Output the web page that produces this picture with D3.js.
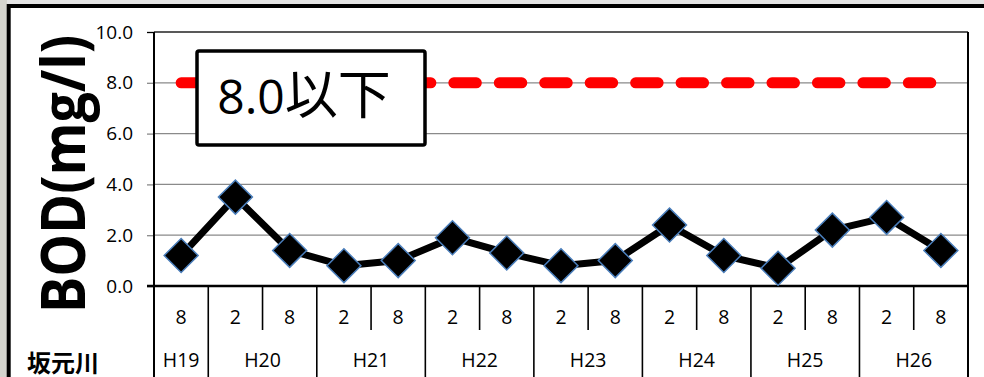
<!DOCTYPE html>
<html>
<head>
<meta charset="utf-8">
<script src="https://cdn.jsdelivr.net/npm/d3@7"></script>
<style>
  html, body { margin: 0; padding: 0; background: #fff; }
  svg { display: block; }
</style>
</head>
<body>
<svg id="chart" width="984" height="377"></svg>
<script>
// ---- data ----
const categoryYears  = ["H19","H20","H20","H21","H21","H22","H22","H23","H23","H24","H24","H25","H25","H26","H26"];
const categoryMonths = ["8","2","8","2","8","2","8","2","8","2","8","2","8","2","8"];
const bodValues      = [1.2, 3.5, 1.4, 0.8, 1.0, 1.9, 1.3, 0.8, 1.0, 2.4, 1.2, 0.7, 2.2, 2.7, 1.4];
const standardValues = [8.0, 8.0, 8.0, 8.0, 8.0, 8.0, 8.0, 8.0, 8.0, 8.0, 8.0, 8.0, 8.0, 8.0, 8.0];
const yTickValues    = [0, 2, 4, 6, 8, 10];
const yAxisTitle     = "BOD(mg/l)";
const riverName      = "坂元川";
const standardLabel  = ["8.0", "以下"];

// ---- layout ----
const W = 984, H = 377;
const plot = { left: 154, right: 968, top: 32, bottom: 286 };
const svg = d3.select("#chart");
const font = "'Open Sans', 'Noto Sans CJK JP', sans-serif";

// background pieces (photo edges)
svg.append("rect").attr("x", 0).attr("y", 0).attr("width", W).attr("height", H).attr("fill", "#fff");
svg.append("rect").attr("x", 0).attr("y", 0).attr("width", W).attr("height", 4).attr("fill", "#e4e4e4");
svg.append("rect").attr("x", 0).attr("y", 0).attr("width", 7).attr("height", H).attr("fill", "#d4d4ce");
// outer frame
svg.append("line").attr("x1", 7).attr("x2", W).attr("y1", 6).attr("y2", 6).attr("stroke", "#000").attr("stroke-width", 4);
svg.append("line").attr("x1", 8.7).attr("x2", 8.7).attr("y1", 4).attr("y2", H).attr("stroke", "#000").attr("stroke-width", 4);

const idx = d3.range(categoryMonths.length);
const x = d3.scaleBand().domain(idx).range([plot.left, plot.right]).padding(0);
const cx = i => x(i) + x.bandwidth() / 2;
const y = d3.scaleLinear().domain([0, 10]).range([plot.bottom, plot.top]);

// gridlines + y ticks
const yAxis = d3.axisLeft(y).tickValues(yTickValues).tickFormat(d3.format(".1f")).tickSize(7).tickPadding(14);
const gY = svg.append("g").attr("transform", `translate(${plot.left},0)`).call(yAxis);
gY.select(".domain").remove();
gY.selectAll(".tick line").attr("stroke", d => (d === 0 || d === 10) ? "#000" : "#8a8a8a").attr("stroke-width", 1.3);
gY.selectAll(".tick text").attr("font-family", font).attr("font-size", 19).attr("fill", "#000");

svg.append("g").selectAll("line").data(yTickValues.filter(v => v > 0 && v < 10)).join("line")
  .attr("x1", plot.left).attr("x2", plot.right)
  .attr("y1", d => y(d)).attr("y2", d => y(d))
  .attr("stroke", "#8a8a8a").attr("stroke-width", 1.3);

// plot border
svg.append("line").attr("x1", plot.left).attr("x2", plot.right).attr("y1", y(10)).attr("y2", y(10)).attr("stroke", "#222").attr("stroke-width", 1.5);
svg.append("line").attr("x1", plot.right).attr("x2", plot.right).attr("y1", y(10)).attr("y2", H).attr("stroke", "#000").attr("stroke-width", 2);
svg.append("line").attr("x1", plot.left).attr("x2", plot.left).attr("y1", y(10)).attr("y2", H).attr("stroke", "#000").attr("stroke-width", 2);
svg.append("line").attr("x1", plot.left - 7).attr("x2", plot.right).attr("y1", y(0)).attr("y2", y(0)).attr("stroke", "#000").attr("stroke-width", 2.5);

// category boundaries
const boundaries = d3.range(categoryMonths.length + 1);
svg.append("g").selectAll("line").data(boundaries).join("line")
  .attr("x1", d => d < categoryMonths.length ? x(d) : plot.right)
  .attr("x2", d => d < categoryMonths.length ? x(d) : plot.right)
  .attr("y1", y(0))
  .attr("y2", d => {
    const yearStart = d === 0 || d === categoryMonths.length || categoryYears[d] !== categoryYears[d - 1];
    return yearStart ? H : 330;
  })
  .attr("stroke", "#000").attr("stroke-width", 1.6);

// month labels
svg.append("g").selectAll("text").data(idx).join("text")
  .attr("x", d => cx(d)).attr("y", 316)
  .attr("text-anchor", "middle").attr("dominant-baseline", "central")
  .attr("font-family", font).attr("font-size", 19.5).attr("fill", "#000")
  .text(d => categoryMonths[d]);

// year labels
const years = Array.from(new Set(categoryYears));
svg.append("g").selectAll("text").data(years).join("text")
  .attr("x", yr => d3.mean(idx.filter(i => categoryYears[i] === yr), cx)).attr("y", 359)
  .attr("text-anchor", "middle").attr("dominant-baseline", "central")
  .attr("font-family", font).attr("font-size", 19.5).attr("fill", "#000")
  .text(yr => yr);

// river name
svg.append("text").attr("x", 27).attr("y", 361).attr("dominant-baseline", "central")
  .attr("font-family", "'Noto Sans CJK JP', sans-serif").attr("font-weight", "bold").attr("font-size", 24)
  .attr("fill", "#000").text(riverName);

// y axis title
svg.append("text")
  .attr("transform", `translate(85,174) rotate(-90)`)
  .attr("text-anchor", "middle")
  .attr("font-family", "'Open Sans', sans-serif").attr("font-weight", "bold").attr("font-size", 60)
  .attr("textLength", 278).attr("lengthAdjust", "spacingAndGlyphs")
  .attr("fill", "#000").text(yAxisTitle);

// standard line
const lineGen = d3.line().x((d, i) => cx(i)).y(d => y(d));
svg.append("path").datum(standardValues).attr("d", lineGen)
  .attr("fill", "none").attr("stroke", "#ff0000").attr("stroke-width", 11)
  .attr("stroke-linecap", "round").attr("stroke-dasharray", "22.5 22.95");

// BOD series
svg.append("path").datum(bodValues).attr("d", lineGen)
  .attr("fill", "none").attr("stroke", "#000").attr("stroke-width", 7).attr("stroke-linejoin", "round");
const diamond = d3.symbol().type(d3.symbolSquare).size(576);
svg.append("g").selectAll("path").data(bodValues).join("path")
  .attr("d", diamond)
  .attr("transform", (d, i) => `translate(${cx(i)},${y(d)}) rotate(45)`)
  .attr("fill", "#000").attr("stroke", "#4a7ebb").attr("stroke-width", 1.5);

// standard label box
svg.append("rect").attr("x", 197).attr("y", 51).attr("width", 228).attr("height", 94).attr("rx", 2)
  .attr("fill", "#fff").attr("stroke", "#000").attr("stroke-width", 3.5);
const lbl = svg.append("text").attr("x", 304).attr("y", 114).attr("text-anchor", "middle")
  .attr("font-family", font).attr("fill", "#000");
lbl.append("tspan").attr("font-size", 48).text(standardLabel[0]);
lbl.append("tspan").attr("font-family", "'Noto Sans CJK JP', sans-serif").attr("font-size", 53).text(standardLabel[1]);
</script>
</body>
</html>
